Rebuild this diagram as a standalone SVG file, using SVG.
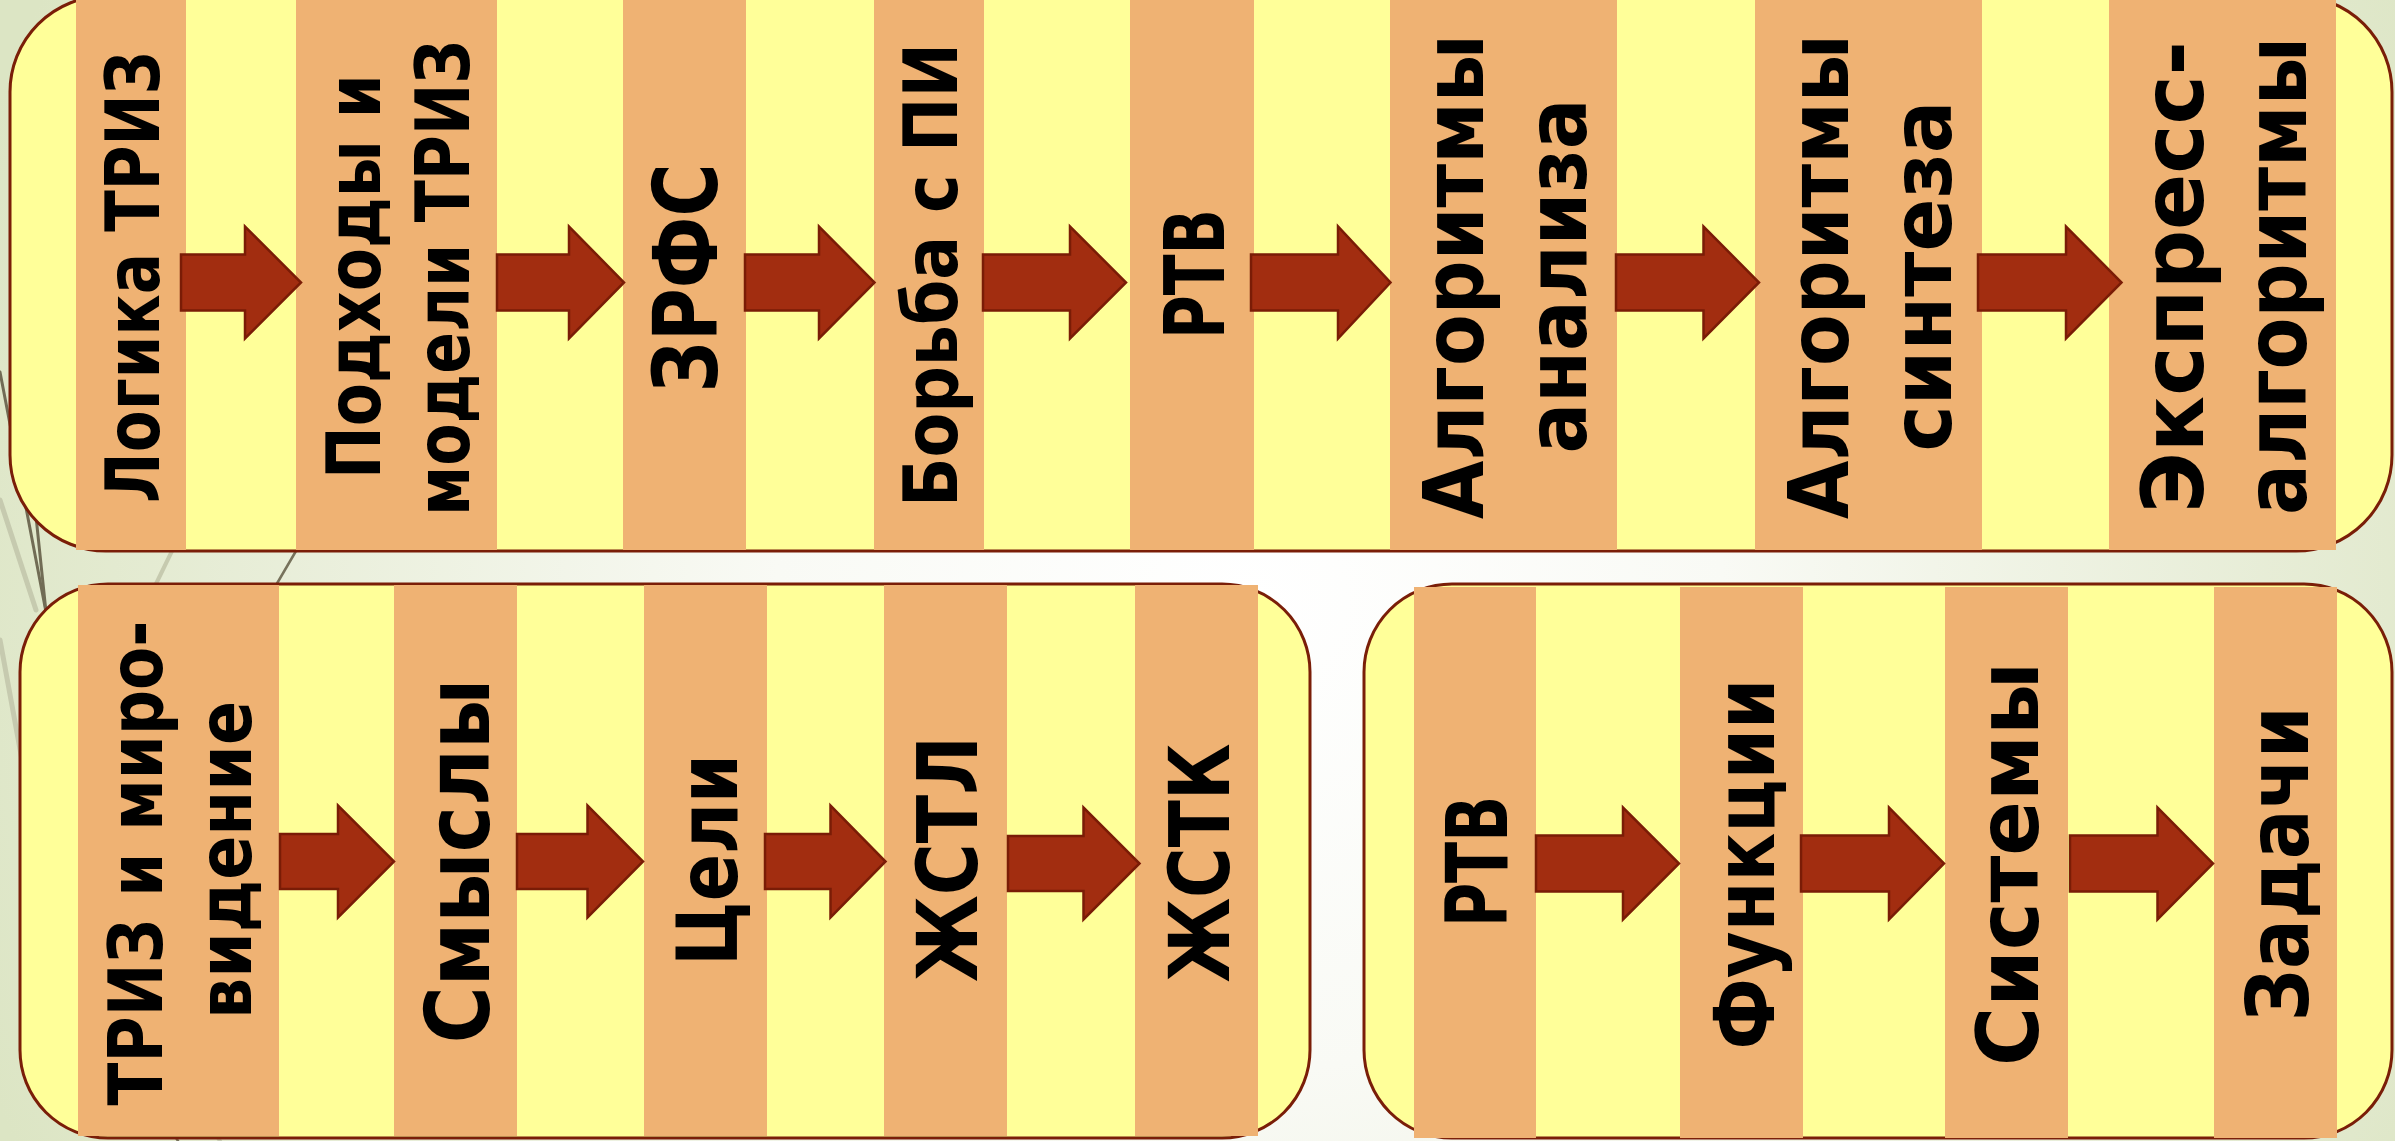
<svg xmlns="http://www.w3.org/2000/svg" width="2395" height="1141" viewBox="0 0 2395 1141">
<style>
.panel{fill:#FFFF99;stroke:#7A1E08;stroke-width:3}
.col{fill:#EFB273}
.arrow{fill:#A22D10;stroke:#7A1C06;stroke-width:2.5;stroke-linejoin:miter}
.t{font-family:"DejaVu Sans","Liberation Sans",sans-serif;font-weight:bold;fill:#000;text-anchor:middle}
.bgl{fill:none;stroke-linecap:round}
</style>
<defs>
<radialGradient id="bg" cx="1250" cy="600" r="1350" gradientUnits="userSpaceOnUse">
<stop offset="0" stop-color="#FFFFFF"/>
<stop offset="0.35" stop-color="#F9FAF5"/>
<stop offset="1" stop-color="#DCE5C4"/>
</radialGradient>
</defs>
<rect x="0" y="0" width="2395" height="1141" fill="url(#bg)"/>
<g id="background-lines">
<path class="bgl" d="M0,372 L46,612" stroke="#716C55" stroke-width="3"/>
<path class="bgl" d="M28,440 L46,612" stroke="#716C55" stroke-width="3"/>
<path class="bgl" d="M0,500 L36,610" stroke="#C6CAAF" stroke-width="5"/>
<path class="bgl" d="M0,640 L22,760" stroke="#C6CAAF" stroke-width="5"/>
<path class="bgl" d="M172,551 L152,592" stroke="#C6CAAF" stroke-width="4"/>
<path class="bgl" d="M296,551 L272,592" stroke="#77725C" stroke-width="2.5"/>
<path class="bgl" d="M168,1125 L178,1141" stroke="#77725C" stroke-width="2.5"/>
<path class="bgl" d="M210,1125 L220,1141" stroke="#C6CAAF" stroke-width="4"/>
</g>

<g id="panel-top">
<rect class="panel" x="10" y="-4" width="2382" height="555" rx="96" ry="96"/>
</g>
<g id="panel-bottom-left">
<rect class="panel" x="20" y="584" width="1290" height="554" rx="88" ry="88"/>
</g>
<g id="panel-bottom-right">
<rect class="panel" x="1364" y="584" width="1028" height="554" rx="88" ry="88"/>
</g>

<g id="node-logika">
<rect class="col" x="76" y="0" width="110" height="550"/>
<text class="t" font-size="74" textLength="452" lengthAdjust="spacingAndGlyphs" transform="translate(159,277) rotate(-90)">Логика ТРИЗ</text>
</g>
<g id="node-podhody">
<rect class="col" x="296" y="0" width="201" height="550"/>
<text class="t" font-size="74" textLength="405" lengthAdjust="spacingAndGlyphs" transform="translate(379.5,276.5) rotate(-90)">Подходы и</text>
<text class="t" font-size="74" textLength="476" lengthAdjust="spacingAndGlyphs" transform="translate(469,278) rotate(-90)">модели ТРИЗ</text>
</g>
<g id="node-zrfs">
<rect class="col" x="623" y="0" width="123" height="550"/>
<text class="t" font-size="89" textLength="229" lengthAdjust="spacingAndGlyphs" transform="translate(717,278) rotate(-90)">ЗРФС</text>
</g>
<g id="node-borba">
<rect class="col" x="874" y="0" width="110" height="550"/>
<text class="t" font-size="74" textLength="464" lengthAdjust="spacingAndGlyphs" transform="translate(957,275) rotate(-90)">Борьба с ПИ</text>
</g>
<g id="node-rtv-top">
<rect class="col" x="1130" y="0" width="124" height="550"/>
<text class="t" font-size="84" textLength="130" lengthAdjust="spacingAndGlyphs" transform="translate(1224,274) rotate(-90)">РТВ</text>
</g>
<g id="node-alg-analiza">
<rect class="col" x="1390" y="0" width="227" height="550"/>
<text class="t" font-size="84" textLength="485" lengthAdjust="spacingAndGlyphs" transform="translate(1483,276.5) rotate(-90)">Алгоритмы</text>
<text class="t" font-size="84" textLength="355" lengthAdjust="spacingAndGlyphs" transform="translate(1586,276) rotate(-90)">анализа</text>
</g>
<g id="node-alg-sinteza">
<rect class="col" x="1755" y="0" width="227" height="550"/>
<text class="t" font-size="84" textLength="485" lengthAdjust="spacingAndGlyphs" transform="translate(1848,276.5) rotate(-90)">Алгоритмы</text>
<text class="t" font-size="84" textLength="351" lengthAdjust="spacingAndGlyphs" transform="translate(1951,276) rotate(-90)">синтеза</text>
</g>
<g id="node-express">
<rect class="col" x="2109" y="0" width="227" height="550"/>
<text class="t" font-size="86" textLength="472" lengthAdjust="spacingAndGlyphs" transform="translate(2203,277) rotate(-90)">Экспресс-</text>
<text class="t" font-size="86" textLength="478" lengthAdjust="spacingAndGlyphs" transform="translate(2306,276) rotate(-90)">алгоритмы</text>
</g>

<g id="node-triz-mirovidenie">
<rect class="col" x="78" y="585" width="201" height="551"/>
<text class="t" font-size="75" textLength="485" lengthAdjust="spacingAndGlyphs" transform="translate(161.5,863) rotate(-90)">ТРИЗ и миро-</text>
<text class="t" font-size="75" textLength="318" lengthAdjust="spacingAndGlyphs" transform="translate(251,860) rotate(-90)">видение</text>
</g>
<g id="node-smysly">
<rect class="col" x="394" y="585" width="123" height="551"/>
<text class="t" font-size="89" textLength="365" lengthAdjust="spacingAndGlyphs" transform="translate(489,861) rotate(-90)">Смыслы</text>
</g>
<g id="node-celi">
<rect class="col" x="644" y="585" width="123" height="551"/>
<text class="t" font-size="84" textLength="212" lengthAdjust="spacingAndGlyphs" transform="translate(737,860) rotate(-90)">Цели</text>
</g>
<g id="node-zhstl">
<rect class="col" x="884" y="585" width="123" height="551"/>
<text class="t" font-size="84" textLength="246" lengthAdjust="spacingAndGlyphs" transform="translate(977,859) rotate(-90)">ЖСТЛ</text>
</g>
<g id="node-zhstk">
<rect class="col" x="1135" y="585" width="123" height="551"/>
<text class="t" font-size="84" textLength="239" lengthAdjust="spacingAndGlyphs" transform="translate(1229,863) rotate(-90)">ЖСТК</text>
</g>

<g id="node-rtv-bottom">
<rect class="col" x="1414" y="587" width="122" height="551"/>
<text class="t" font-size="85" textLength="131" lengthAdjust="spacingAndGlyphs" transform="translate(1507,861.5) rotate(-90)">РТВ</text>
</g>
<g id="node-funkcii">
<rect class="col" x="1680" y="587" width="123" height="551"/>
<text class="t" font-size="84" textLength="371" lengthAdjust="spacingAndGlyphs" transform="translate(1773.5,864) rotate(-90)">Функции</text>
</g>
<g id="node-sistemy">
<rect class="col" x="1945" y="587" width="123" height="551"/>
<text class="t" font-size="85" textLength="404" lengthAdjust="spacingAndGlyphs" transform="translate(2038,864) rotate(-90)">Системы</text>
</g>
<g id="node-zadachi">
<rect class="col" x="2214" y="587" width="123" height="551"/>
<text class="t" font-size="86" textLength="315" lengthAdjust="spacingAndGlyphs" transform="translate(2307.5,864) rotate(-90)">Задачи</text>
</g>

<g id="connectors">
<polygon class="arrow" points="181,254.5 245,254.5 245,226.5 301,282.5 245,338.5 245,310.5 181,310.5"/>
<polygon class="arrow" points="497,254.5 569,254.5 569,226.5 624,282.5 569,338.5 569,310.5 497,310.5"/>
<polygon class="arrow" points="745,254.5 819,254.5 819,226.5 874.5,282.5 819,338.5 819,310.5 745,310.5"/>
<polygon class="arrow" points="983,254.5 1070,254.5 1070,226.5 1126,282.5 1070,338.5 1070,310.5 983,310.5"/>
<polygon class="arrow" points="1251,254.5 1338,254.5 1338,226.5 1390.5,282.5 1338,338.5 1338,310.5 1251,310.5"/>
<polygon class="arrow" points="1616,254.5 1703.5,254.5 1703.5,226.5 1759,282.5 1703.5,338.5 1703.5,310.5 1616,310.5"/>
<polygon class="arrow" points="1978,254.5 2066,254.5 2066,226.5 2121.5,282.5 2066,338.5 2066,310.5 1978,310.5"/>

<polygon class="arrow" points="280,834 338,834 338,805.5 394,861.5 338,917.5 338,889 280,889"/>
<polygon class="arrow" points="517,834 587.5,834 587.5,805.5 643,861.5 587.5,917.5 587.5,889 517,889"/>
<polygon class="arrow" points="765,834 830.5,834 830.5,805.5 885.5,861.5 830.5,917.5 830.5,889 765,889"/>
<polygon class="arrow" points="1008,836 1083.5,836 1083.5,807.5 1139.5,863.5 1083.5,919.5 1083.5,891 1008,891"/>

<polygon class="arrow" points="1536,835.5 1623,835.5 1623,807.5 1679,863.5 1623,919.5 1623,891.5 1536,891.5"/>
<polygon class="arrow" points="1801,835.5 1889,835.5 1889,807.5 1944,863.5 1889,919.5 1889,891.5 1801,891.5"/>
<polygon class="arrow" points="2070,835.5 2157.5,835.5 2157.5,807.5 2213,863.5 2157.5,919.5 2157.5,891.5 2070,891.5"/>
</g>
</svg>
